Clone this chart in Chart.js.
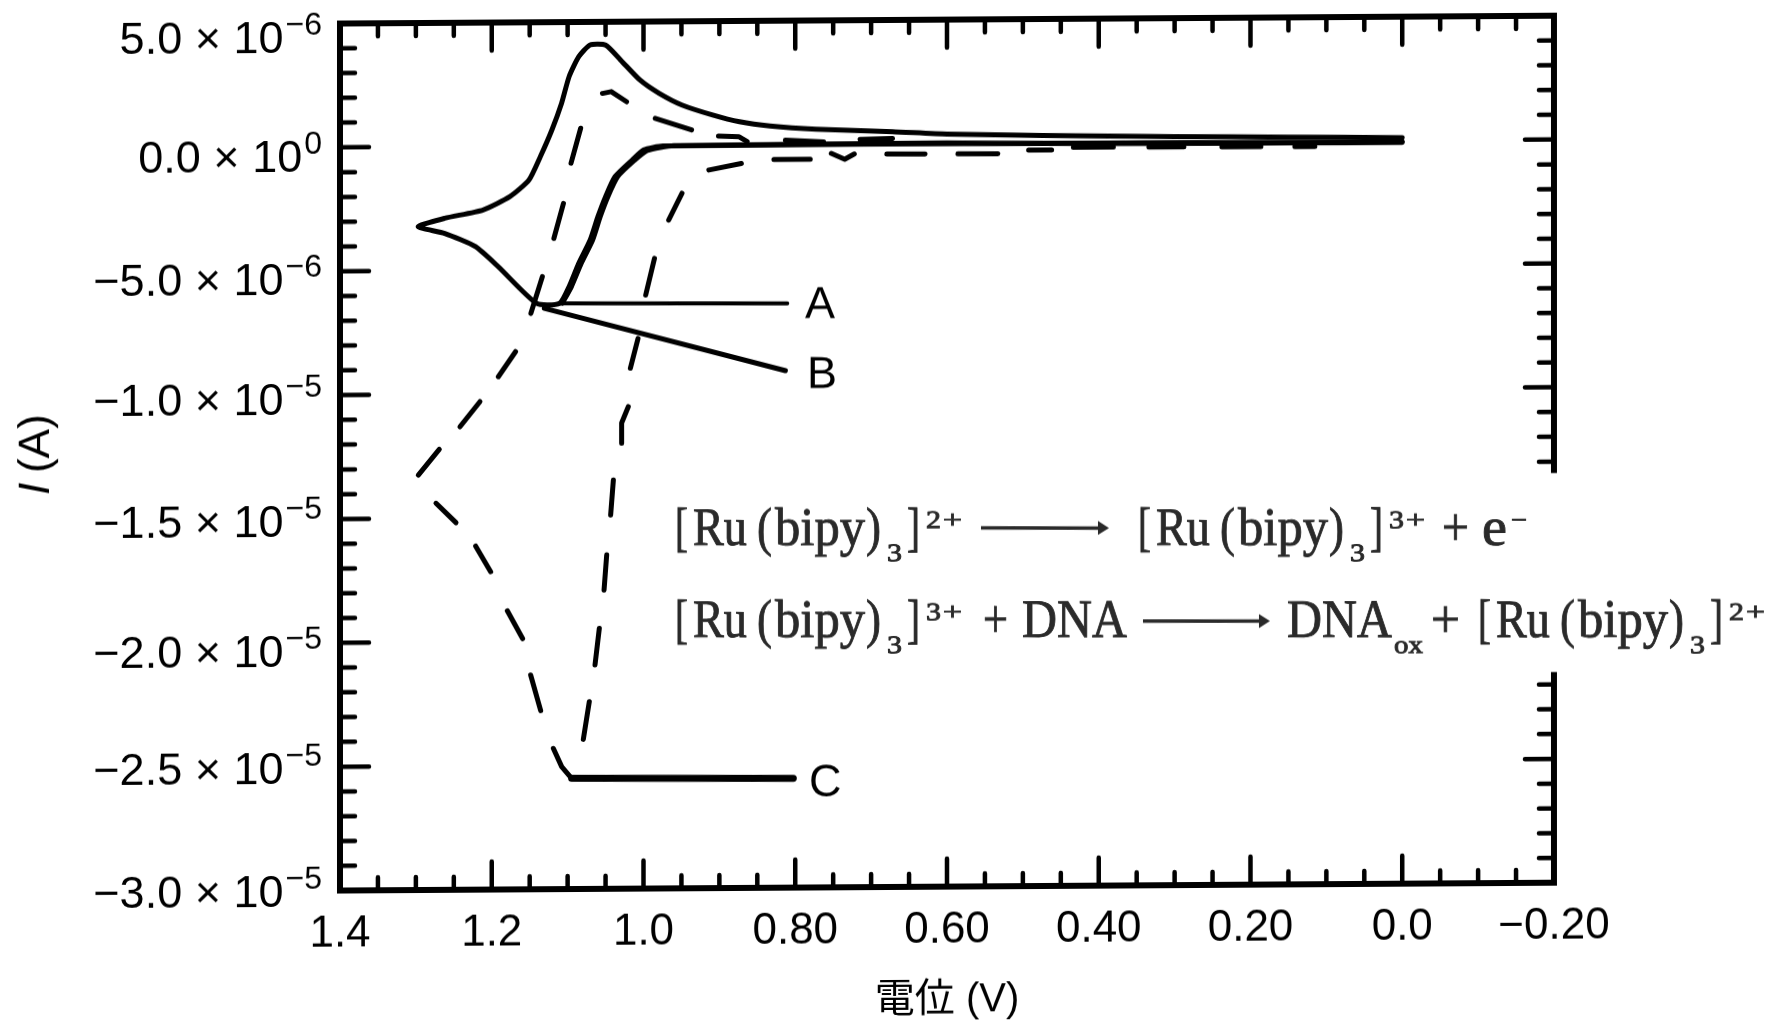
<!doctype html>
<html lang="en">
<head>
<meta charset="utf-8">
<title>Cyclic voltammogram</title>
<script src="https://cdn.jsdelivr.net/npm/chart.js@4/dist/chart.umd.min.js"></script>
<style>
	html, body { margin: 0; padding: 0; background: #fff; }
	#cv { position: absolute; left: 0; top: 0; transform-origin: 887.5px 510.5px; transform: skewY(-0.37deg); }
</style>
</head>
<body>
<canvas id="cv" width="1775" height="1021"></canvas>
<script>
// axis labels
var xTickValues = [1.4, 1.2, 1.0, 0.8, 0.6, 0.4, 0.2, 0.0, -0.2];
var xTickLabels = ["1.4", "1.2", "1.0", "0.80", "0.60", "0.40", "0.20", "0.0", "\u22120.20"];
var yTickValues = [5, 0, -5, -10, -15, -20, -25, -30]; // microamps
var yTickMantissa = ["5.0", "0.0", "\u22125.0", "\u22121.0", "\u22121.5", "\u22122.0", "\u22122.5", "\u22123.0"];
var yTickExponent = ["\u22126", "0", "\u22126", "\u22125", "\u22125", "\u22125", "\u22125", "\u22125"];
var yLabelDrop = [29, 24, 23, 19, 18, 24, 17, 16];

// curve B: full loop, volts / microamps, from the right end round the loop and back
var loopVolts = [0.0, 0.15, 0.3, 0.47, 0.6, 0.8, 0.9744, 0.9996, 1.0147, 1.0374, 1.05, 1.06, 1.0702, 1.0853, 1.098, 1.1106, 1.1408,
	1.1913, 1.2215, 1.2619, 1.297, 1.262, 1.2114, 1.176, 1.151, 1.136, 1.1207, 1.108, 1.098, 1.0853, 1.0702, 1.05,
	1.03, 1.0046, 0.9794, 0.9492, 0.9088, 0.8735, 0.8332, 0.7726, 0.6718, 0.6, 0.4735, 0.3, 0.15, 0.0];
var loopAmps = [-0.08, -0.07, -0.06, -0.03, 0.02, 0.0, -0.03, -0.18, -0.58, -1.25, -2.06, -2.86, -3.8, -4.74, -5.68, -6.35, -6.35,
	-4.86, -4.04, -3.5, -3.22, -2.89, -2.56, -2.03, -1.37, -0.43, 0.65, 1.72, 2.8, 3.6, 4.07, 4.06,
	3.45, 2.64, 2.1, 1.62, 1.21, 0.93, 0.75, 0.61, 0.49, 0.38, 0.3, 0.22, 0.17, 0.12];

// curve A: forward branch only, it runs next to the loop and thickens it
var branchVolts = [0.0, 0.47, 0.96, 0.995, 1.012, 1.034, 1.047, 1.057, 1.067, 1.082, 1.095, 1.107];
var branchAmps = [-0.05, -0.02, -0.02, -0.2, -0.6, -1.25, -2.06, -2.86, -3.8, -4.74, -5.68, -6.35];

// leaders to the letters
var leaderAVolts = [1.1106, 0.8105];
var leaderAAmps = [-6.35, -6.41];
var leaderBVolts = [1.1307, 0.813];
var leaderBAmps = [-6.55, -9.13];
var leaderCVolts = [1.0947, 0.8025];
var leaderCAmps = [-25.53, -25.59];

// curve C: the dashes as printed, null between dashes
var dashVolts = [0.2377, 0.1863, null, 0.1415, 0.1152, null, 0.3339, 0.2878, null, 0.4334, 0.3807, null, 0.4924, 0.4621, null,
	0.5856, 0.533, null, 0.6793, 0.6289, null, 0.7525, 0.7348, 0.7222, null, 0.8281, 0.7802, null, 0.9139, 0.871, null,
	0.9668, 0.9492, null, 0.9971, 0.9855, null, 1.0173, 1.0072, null, 1.0288, 1.0288, 1.02, null, 1.0433, 1.0397, null,
	1.052, 1.0485, null, 1.0639, 1.0582, null, 1.0793, 1.0714, null,
	1.2968, 1.2691, null, 1.2419, 1.2155, null, 1.1913, 1.1686, null, 1.1484, 1.1333, null, 1.1181, 1.1055, null,
	1.0955, 1.0828, null, 1.0541, 1.0425, 1.0223, null, 0.9845, 0.9366, null, 0.9012, 0.8745, 0.8634, null,
	0.813, 0.7626, null, 0.7146, 0.6718, null,
	1.2735, 1.2471, null, 1.2212, 1.2014, null, 1.1795, 1.1593, null, 1.1487, 1.1355, null, 1.1188, 1.1078, 1.0947];
var dashAmps = [-0.21, -0.21, null, -0.22, -0.22, null, -0.2, -0.2, null, -0.19, -0.19, null, -0.29, -0.29, null,
	-0.42, -0.43, null, -0.41, -0.42, null, -0.37, -0.61, -0.4, null, -0.6, -0.6, null, -1.01, -0.75, null,
	-3.02, -1.94, null, -6.04, -4.56, null, -8.99, -7.79, null, -12.02, -11.2, -10.54, null, -14.91, -13.5, null,
	-17.94, -16.52, null, -20.96, -19.48, null, -23.96, -22.44, null,
	-13.25, -12.21, null, -11.31, -10.3, null, -9.3, -8.29, null, -6.75, -5.27, null, -3.73, -2.32, null,
	-0.7, 0.71, null, 2.11, 2.18, 1.77, null, 1.09, 0.61, null, 0.36, 0.33, 0.13, null,
	0.18, 0.1, null, 0.19, 0.22, null,
	-14.39, -15.18, null, -16.13, -17.17, null, -18.75, -19.88, null, -21.35, -22.79, null, -24.32, -25.06, -25.53];

var SKEW = Math.tan(0.37 * Math.PI / 180);

function points(xs, ys) {
	return xs.map(function(x, i) { return { x: x, y: ys[i] }; });
}

function line(label, xs, ys, width, tension) {
	return {
		label: label,
		data: points(xs, ys),
		showLine: true,
		borderColor: "#000",
		borderWidth: width,
		pointRadius: 0,
		tension: tension || 0,
		borderCapStyle: "round",
		borderJoinStyle: "round"
	};
}

// undo the page tilt, for text that sits level in the reference
function level(ctx) {
	ctx.translate(887.5, 510.5);
	ctx.transform(1, SKEW, 0, 1, 0, 0);
	ctx.translate(-887.5, -510.5);
}

// text stretched between two x positions
function fit(ctx, text, x0, x1, y) {
	ctx.save();
	ctx.translate(x0, y);
	ctx.scale((x1 - x0) / ctx.measureText(text).width, 1);
	ctx.textAlign = "left";
	ctx.lineWidth = 0.9;
	ctx.fillText(text, 0, 0);
	ctx.strokeText(text, 0, 0);
	ctx.restore();
}

function serif(ctx, size) {
	ctx.font = size + 'px "Liberation Serif"';
}

function complex(ctx, x, y, charge) {
	serif(ctx, 54);
	fit(ctx, "[", x, x + 13, y);
	fit(ctx, "Ru", x + 18, x + 72, y);
	fit(ctx, "(", x + 82, x + 97, y);
	fit(ctx, "bipy", x + 100, x + 190, y);
	fit(ctx, ")", x + 191, x + 206, y);
	fit(ctx, "]", x + 232, x + 245, y);
	serif(ctx, 25);
	fit(ctx, "3", x + 212, x + 227, y + 16);
	fit(ctx, charge[0], x + 251, x + 266, y - 17);
	fit(ctx, charge[1], x + 268, x + 287, y - 17);
}

function arrow(ctx, x0, x1, y) {
	ctx.lineWidth = 3.5;
	ctx.beginPath();
	ctx.moveTo(x0, y);
	ctx.lineTo(x1 - 8, y);
	ctx.stroke();
	ctx.beginPath();
	ctx.moveTo(x1, y);
	ctx.lineTo(x1 - 11, y - 7);
	ctx.lineTo(x1 - 11, y + 7);
	ctx.closePath();
	ctx.fill();
}

var framePlugin = {
	id: "frame",
	beforeDatasetsDraw: function(chart) {
		var ctx = chart.ctx, a = chart.chartArea, sx = chart.scales.x, sy = chart.scales.y;
		ctx.save();
		ctx.strokeStyle = "#000";
		ctx.fillStyle = "#000";
		ctx.lineWidth = 6;
		ctx.strokeRect(a.left, a.top, a.right - a.left, a.bottom - a.top);

		// inward ticks on all four sides
		ctx.lineCap = "round";
		ctx.lineWidth = 4.5;
		for (var i = 0; i <= 32; i++) {
			var vx = 1.4 - i * 0.05;
			var px = sx.getPixelForValue(vx);
			var lx = i % 4 === 0 ? 28 : 13;
			ctx.beginPath();
			ctx.moveTo(px, a.top);
			ctx.lineTo(px, a.top + lx);
			ctx.moveTo(px, a.bottom);
			ctx.lineTo(px, a.bottom - lx);
			ctx.stroke();
		}
		for (var j = 0; j <= 35; j++) {
			var vy = 5 - j;
			var py = sy.getPixelForValue(vy);
			var ly = j % 5 === 0 ? 29 : 15;
			ctx.beginPath();
			ctx.moveTo(a.left, py);
			ctx.lineTo(a.left + ly, py);
			ctx.moveTo(a.right, py);
			ctx.lineTo(a.right - ly, py);
			ctx.stroke();
		}

		// y tick labels, with the exponent raised
		yTickValues.forEach(function(v, k) {
			var base = sy.getPixelForValue(v) + yLabelDrop[k];
			ctx.textAlign = "right";
			ctx.textBaseline = "alphabetic";
			ctx.font = '32px "Liberation Sans"';
			ctx.fillText(yTickExponent[k], 322, base - 18);
			var w = ctx.measureText(yTickExponent[k]).width;
			ctx.font = '45px "Liberation Sans"';
			ctx.fillText(yTickMantissa[k] + " \u00d7 10", 320 - w, base);
		});
		ctx.restore();
	},
	afterDatasetsDraw: function(chart) {
		var ctx = chart.ctx;
		ctx.save();
		level(ctx);

		// patch with the two reaction lines, it cuts the right axis
		ctx.fillStyle = "#fff";
		ctx.fillRect(640, 473, 1135, 199);
		ctx.fillStyle = "#2a2a2a";
		ctx.strokeStyle = "#2a2a2a";
		ctx.textBaseline = "alphabetic";
		ctx.filter = "blur(0.7px)";
		complex(ctx, 675, 545, "2+");
		arrow(ctx, 981, 1109, 528);
		complex(ctx, 1138, 545, "3+");
		serif(ctx, 54);
		fit(ctx, "+", 1442, 1469, 545);
		fit(ctx, "e", 1482, 1507, 545);
		serif(ctx, 25);
		fit(ctx, "\u2212", 1511, 1527, 528);
		complex(ctx, 675, 637, "3+");
		serif(ctx, 54);
		fit(ctx, "+", 983, 1008, 637);
		fit(ctx, "DNA", 1022, 1127, 637);
		arrow(ctx, 1143, 1270, 621);
		serif(ctx, 54);
		fit(ctx, "DNA", 1287, 1392, 637);
		fit(ctx, "+", 1431, 1460, 637);
		serif(ctx, 25);
		fit(ctx, "ox", 1394, 1423, 653);
		complex(ctx, 1478, 637, "2+");
		ctx.filter = "none";

		// letters for the curves
		ctx.fillStyle = "#000";
		ctx.font = '45px "Liberation Sans"';
		ctx.textAlign = "left";
		ctx.fillText("A", 805, 318);
		ctx.fillText("B", 807, 388);
		ctx.fillText("C", 809, 796);

		// y axis title, the I is italic
		ctx.translate(49, 495);
		ctx.rotate(-Math.PI / 2);
		ctx.font = 'italic 44px "Liberation Sans"';
		ctx.fillText("I", 0, 0);
		ctx.font = '44px "Liberation Sans"';
		ctx.fillText("(A)", 22, 0);
		ctx.restore();
	}
};

new Chart(document.getElementById("cv"), {
	type: "scatter",
	data: {
		datasets: [
			line("B", loopVolts, loopAmps, 5, 0.2),
			line("A", branchVolts, branchAmps, 5, 0.2),
			line("A leader", leaderAVolts, leaderAAmps, 4),
			line("B leader", leaderBVolts, leaderBAmps, 5),
			line("C", dashVolts, dashAmps, 5),
			line("C leader", leaderCVolts, leaderCAmps, 7)
		]
	},
	options: {
		responsive: false,
		animation: false,
		devicePixelRatio: 1,
		layout: { padding: { left: 340, right: 221, top: 20, bottom: 0 } },
		plugins: { legend: { display: false }, tooltip: { enabled: false } },
		scales: {
			x: {
				type: "linear",
				reverse: true,
				min: -0.2,
				max: 1.4,
				grid: { display: false },
				border: { display: false },
				afterFit: function(scale) { scale.height = 134; },
				afterBuildTicks: function(scale) {
					scale.ticks = xTickValues.map(function(v) { return { value: v }; });
				},
				ticks: {
					autoSkip: false,
					maxRotation: 0,
					padding: 9,
					color: "#000",
					font: { family: "Liberation Sans", size: 44 },
					callback: function(value) {
						var k = xTickValues.findIndex(function(v) { return Math.abs(v - value) < 1e-6; });
						return xTickLabels[k];
					}
				},
				title: {
					display: true,
					text: "\u96fb\u4f4d (V)",
					color: "#000",
					padding: { top: 0, bottom: -4 },
					font: { family: "'Liberation Sans', 'Noto Sans CJK JP'", size: 40 }
				}
			},
			y: {
				type: "linear",
				min: -30,
				max: 5,
				grid: { display: false },
				border: { display: false },
				afterFit: function(scale) { scale.width = 0; },
				ticks: { display: false }
			}
		}
	},
	plugins: [framePlugin]
});
</script>
</body>
</html>
